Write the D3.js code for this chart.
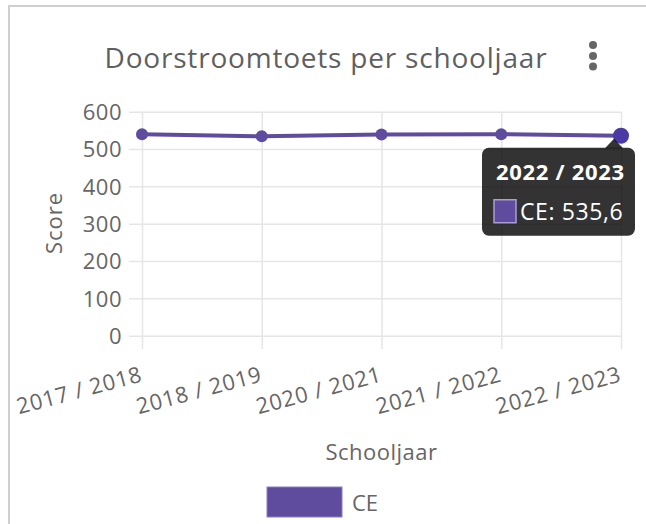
<!DOCTYPE html>
<html>
<head>
<meta charset="utf-8">
<script src="https://cdn.jsdelivr.net/npm/d3@7"></script>
<style>
  body { margin: 0; background: #fff; }
  svg { display: block; font-family: "Open Sans", sans-serif; }
</style>
</head>
<body>
<div class="container"></div>
<script>
// data
var categories = ["2017 / 2018", "2018 / 2019", "2020 / 2021", "2021 / 2022", "2022 / 2023"];
var seriesName = "CE";
var ceValues = [539.5, 534.2, 539.1, 539.8, 535.6];
var yTicks = [0, 100, 200, 300, 400, 500, 600];
var activeIndex = 4;

var width = 646, height = 524;
var lineColor = "#5f4c9e";
var textColor = "#666";
var gridColor = "#e6e6e6";

var plot = {left: 142, right: 621, top: 111.7, bottom: 335.7, gridLeft: 129, gridBottom: 349};

var svg = d3.select(".container").append("svg")
    .attr("width", width)
    .attr("height", height);

// card border (top + left)
svg.append("path")
  .attr("d", "M9," + height + " V6 H" + width)
  .attr("fill", "none")
  .attr("stroke", "#cfcfcf")
  .attr("stroke-width", 2);

// title
svg.append("text")
  .attr("x", 326)
  .attr("y", 68)
  .attr("text-anchor", "middle")
  .style("font-size", "28px")
  .style("letter-spacing", "0.8px")
  .attr("fill", "#5f5f5f")
  .text("Doorstroomtoets per schooljaar");

// kebab menu
svg.selectAll(".dot")
    .data([45, 56, 66.5])
  .enter().append("circle")
    .attr("cx", 593)
    .attr("cy", function(d) { return d; })
    .attr("r", 4)
    .attr("fill", "#666");

var x = d3.scalePoint().domain(categories).range([plot.left, plot.right]);
var y = d3.scaleLinear().domain([0, 600]).range([plot.bottom, plot.top]);

// y axis + horizontal grid
var yAxis = svg.append("g")
    .attr("transform", "translate(" + plot.gridLeft + ",0)")
    .call(d3.axisLeft(y).tickValues(yTicks)
      .tickSize(-(plot.right - plot.gridLeft))
      .tickPadding(7));
yAxis.select(".domain").remove();
yAxis.selectAll("line").attr("stroke", gridColor).attr("stroke-width", 1.5);
yAxis.selectAll("text")
  .attr("fill", textColor)
  .style("font-size", "22px")
  .style("letter-spacing", "0.5px")
  .style("font-family", "Open Sans, sans-serif")
  .attr("dy", "0.36em");

// x axis + vertical grid
var xAxis = svg.append("g")
    .attr("transform", "translate(0," + plot.gridBottom + ")")
    .call(d3.axisBottom(x)
      .tickSize(-(plot.gridBottom - plot.top))
      .tickPadding(0));
xAxis.select(".domain").remove();
xAxis.selectAll("line").attr("stroke", gridColor).attr("stroke-width", 1.5);
xAxis.selectAll("text")
  .attr("fill", textColor)
  .style("font-size", "22px")
  .style("letter-spacing", "0.8px")
  .style("font-family", "Open Sans, sans-serif")
  .attr("text-anchor", "end")
  .attr("x", 0)
  .attr("y", 0)
  .attr("dy", 0)
  .attr("transform", "translate(1,32) rotate(-15)");

// axis titles
svg.append("text")
  .attr("transform", "translate(62,223) rotate(-90)")
  .attr("text-anchor", "middle")
  .attr("fill", textColor)
  .style("font-size", "22px")
  .style("letter-spacing", "1px")
  .text("Score");

svg.append("text")
  .attr("x", (plot.left + plot.right) / 2)
  .attr("y", 460)
  .attr("text-anchor", "middle")
  .attr("fill", textColor)
  .style("font-size", "22px")
  .style("letter-spacing", "0.5px")
  .text("Schooljaar");

// line
var line = d3.line()
    .x(function(d, i) { return x(categories[i]); })
    .y(function(d) { return y(d); });

svg.append("path")
  .datum(ceValues)
  .attr("d", line)
  .attr("fill", "none")
  .attr("stroke", lineColor)
  .attr("stroke-width", 4);

svg.selectAll(".point")
    .data(ceValues)
  .enter().append("circle")
    .attr("class", "point")
    .attr("cx", function(d, i) { return x(categories[i]); })
    .attr("cy", function(d) { return y(d); })
    .attr("r", function(d, i) { return i === activeIndex ? 8 : 6; })
    .attr("fill", function(d, i) { return i === activeIndex ? "#4b3aa3" : lineColor; });

// tooltip on active point
var px = x(categories[activeIndex]), py = y(ceValues[activeIndex]);
var tip = svg.append("g")
    .attr("transform", "translate(" + (px + 14) + "," + (py + 12) + ")");
tip.append("rect")
  .attr("x", -153).attr("y", 0)
  .attr("width", 153).attr("height", 88)
  .attr("rx", 7)
  .attr("fill", "rgba(0,0,0,0.8)");
tip.append("path")
  .attr("d", "M-30,0.5 L-21,-9 L-12,0.5 Z")
  .attr("fill", "rgba(0,0,0,0.8)");
tip.append("text")
  .attr("x", -139).attr("y", 32)
  .attr("fill", "#fff")
  .style("font-size", "22px")
  .style("letter-spacing", "0.7px")
  .style("font-weight", "bold")
  .text(categories[activeIndex]);
tip.append("rect")
  .attr("x", -141).attr("y", 52)
  .attr("width", 22).attr("height", 23)
  .attr("fill", lineColor)
  .attr("stroke", "#a99fd4")
  .attr("stroke-width", 1.5);
tip.append("text")
  .attr("x", -115).attr("y", 72)
  .attr("fill", "#fff")
  .style("font-size", "23px")
  .style("letter-spacing", "0.6px")
  .text(seriesName + ": " + d3.format(".1f")(ceValues[activeIndex]).replace(".", ","));

// legend
svg.append("rect")
  .attr("x", 267).attr("y", 487)
  .attr("width", 75).attr("height", 30)
  .attr("fill", lineColor)
  .attr("stroke", "#8c7fc4")
  .attr("stroke-width", 1);
svg.append("text")
  .attr("x", 352).attr("y", 511)
  .attr("fill", textColor)
  .style("font-size", "22px")
  .text(seriesName);
</script>
</body>
</html>
